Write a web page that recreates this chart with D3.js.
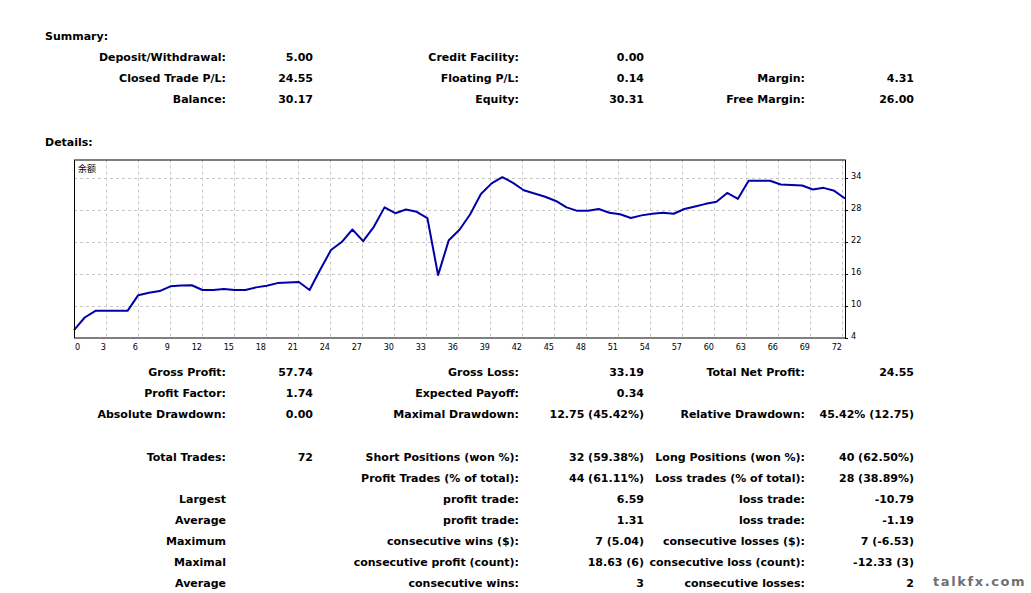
<!DOCTYPE html>
<html><head><meta charset="utf-8">
<script src="https://cdn.jsdelivr.net/npm/d3@7"></script>
<style>
html,body{margin:0;padding:0;background:#fff;}
svg{display:block;}
.t{font-family:"DejaVu Sans",sans-serif;font-weight:bold;font-size:11px;fill:#000;}
.ax{font-family:"DejaVu Sans Condensed","DejaVu Sans",sans-serif;font-size:9px;fill:#000;}
</style></head>
<body>
<script>
// ---- data ----
const trades = d3.range(0, 73);
const balance = [5.4, 7.75, 9.0, 9.0, 9.0, 9.0, 11.94, 12.4, 12.7, 13.6,
  13.75, 13.8, 12.9, 12.9, 13.1, 12.9, 12.9, 13.4, 13.7, 14.2,
  14.3, 14.4, 12.9, 16.75, 20.4, 21.9, 24.25, 22.06, 24.75, 28.4,
  27.3, 28.0, 27.56, 26.4, 15.7, 22.25, 24.2, 27.1, 30.9, 32.9,
  34.06, 33.0, 31.6, 31.0, 30.4, 29.6, 28.4, 27.75, 27.75, 28.1,
  27.4, 27.1, 26.4, 26.9, 27.2, 27.4, 27.2, 28.1, 28.56, 29.06,
  29.44, 31.1, 30.0, 33.4, 33.4, 33.4, 32.7, 32.6, 32.5, 31.75,
  32.06, 31.5, 30.06];
const xTicks = d3.range(0, 73, 3);
const yTicks = [4, 10, 16, 22, 28, 34];
const seriesName = "余额";

const summaryTitle = "Summary:";
const summaryRows = [
  ["Deposit/Withdrawal:", "5.00", "Credit Facility:", "0.00", "", ""],
  ["Closed Trade P/L:", "24.55", "Floating P/L:", "0.14", "Margin:", "4.31"],
  ["Balance:", "30.17", "Equity:", "30.31", "Free Margin:", "26.00"]
];
const detailsTitle = "Details:";
const statsRowsA = [
  ["Gross Profit:", "57.74", "Gross Loss:", "33.19", "Total Net Profit:", "24.55"],
  ["Profit Factor:", "1.74", "Expected Payoff:", "0.34", "", ""],
  ["Absolute Drawdown:", "0.00", "Maximal Drawdown:", "12.75 (45.42%)", "Relative Drawdown:", "45.42% (12.75)"]
];
const statsRowsB = [
  ["Total Trades:", "72", "Short Positions (won %):", "32 (59.38%)", "Long Positions (won %):", "40 (62.50%)"],
  ["", "", "Profit Trades (% of total):", "44 (61.11%)", "Loss trades (% of total):", "28 (38.89%)"],
  ["Largest", "", "profit trade:", "6.59", "loss trade:", "-10.79"],
  ["Average", "", "profit trade:", "1.31", "loss trade:", "-1.19"],
  ["Maximum", "", "consecutive wins ($):", "7 (5.04)", "consecutive losses ($):", "7 (-6.53)"],
  ["Maximal", "", "consecutive profit (count):", "18.63 (6)", "consecutive loss (count):", "-12.33 (3)"],
  ["Average", "", "consecutive wins:", "3", "consecutive losses:", "2"]
];
const watermark = "talkfx.com";

// ---- layout ----
const W = 1031, H = 593;
const svg = d3.select("body").append("svg").attr("width", W).attr("height", H);
svg.append("rect").attr("width", W).attr("height", H).attr("fill", "#fff");

const colRight = [226, 313, 519, 644, 805, 914];

function drawRows(rows, y0, dy) {
  rows.forEach((r, i) => {
    r.forEach((txt, j) => {
      if (!txt) return;
      svg.append("text").attr("class", "t")
        .attr("x", colRight[j]).attr("y", y0 + i * dy)
        .attr("text-anchor", "end").text(txt);
    });
  });
}

svg.append("text").attr("class", "t").attr("x", 45).attr("y", 39.5).text(summaryTitle);
drawRows(summaryRows, 60.5, 21);
svg.append("text").attr("class", "t").attr("x", 45).attr("y", 145.5).text(detailsTitle);
drawRows(statsRowsA, 376, 21);
drawRows(statsRowsB, 460.5, 21);

// ---- chart ----
const L = 74, R = 845, T = 159.5, B = 337.5;
const xAxisScale = d3.scaleLinear().domain([0, 72]).range([L, 842]);
const xLine = d3.scaleLinear().domain([0, 72]).range([L, R]);
const y = d3.scaleLinear().domain([4, 34]).range([B, 177.5]);

const g = svg.append("g");
// grid
g.selectAll(".vg").data(xTicks.filter(d => d > 0)).enter().append("line")
  .attr("x1", d => Math.round(xAxisScale(d)) + 0.5).attr("x2", d => Math.round(xAxisScale(d)) + 0.5)
  .attr("y1", T).attr("y2", B)
  .attr("stroke", "#c8c8c8").attr("stroke-dasharray", "3,3");
g.selectAll(".hg").data(yTicks.filter(d => d > 4)).enter().append("line")
  .attr("x1", L).attr("x2", R)
  .attr("y1", d => Math.round(y(d)) + 0.5).attr("y2", d => Math.round(y(d)) + 0.5)
  .attr("stroke", "#c8c8c8").attr("stroke-dasharray", "3,3");

// line
const line = d3.line().x((d, i) => xLine(trades[i])).y(d => y(d));
g.append("path").datum(balance).attr("d", line)
  .attr("fill", "none").attr("stroke", "#0000a8").attr("stroke-width", 2)
  .attr("stroke-linejoin", "round");

// frame
g.append("rect").attr("x", L + 0.5).attr("y", T + 0.5).attr("width", R - L).attr("height", B - T)
  .attr("fill", "none").attr("stroke", "#000").attr("stroke-width", 1);

// y ticks right
yTicks.forEach(d => {
  const yy = Math.round(y(d)) + 0.5;
  g.append("line").attr("x1", R).attr("x2", R + 3).attr("y1", yy).attr("y2", yy).attr("stroke", "#000");
  g.append("text").attr("class", "ax").attr("x", R + 6).attr("y", yy + 0.5)
    .text(d);
});
// x labels
xTicks.forEach(d => {
  const xx = xAxisScale(d);
  g.append("text").attr("class", "ax")
    .attr("x", d === 0 ? xx + 1 : xx)
    .attr("y", B + 12)
    .attr("text-anchor", d === 0 ? "start" : "end")
    .text(d);
});

// series name
g.append("text").attr("x", 78).attr("y", 172)
  .attr("font-family", "'Noto Sans CJK SC',sans-serif").attr("font-size", 9).attr("fill", "#000")
  .text(seriesName);

// watermark
svg.append("text").attr("x", 933).attr("y", 586)
  .attr("font-family", "'DejaVu Sans',sans-serif").attr("font-weight", "bold").attr("font-size", 13)
  .attr("fill", "#707070").attr("letter-spacing", 1.6).text(watermark);
</script>
</body></html>
